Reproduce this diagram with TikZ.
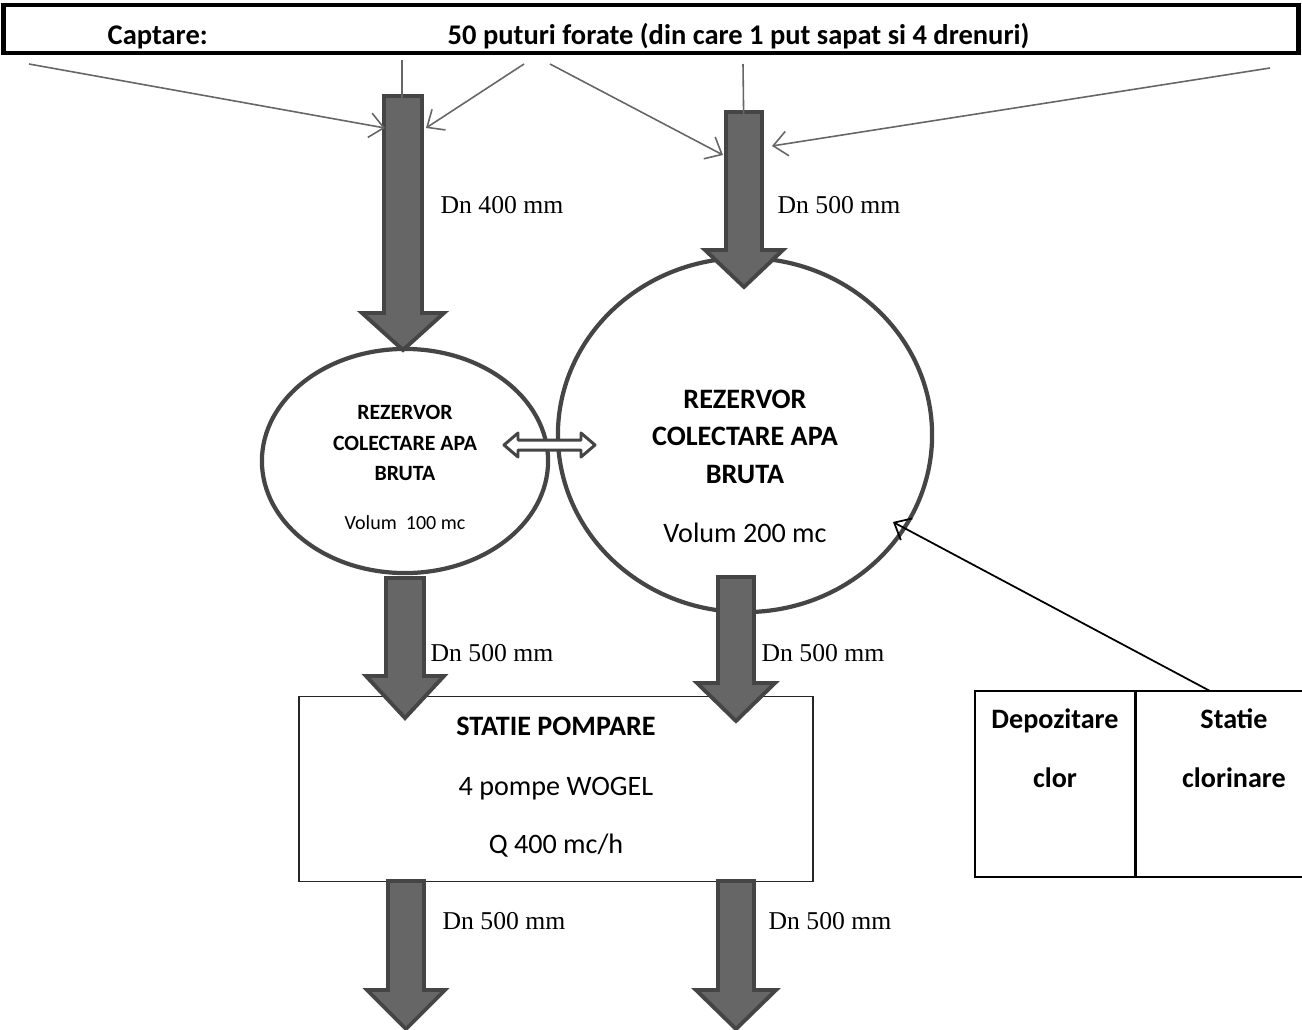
\documentclass[tikz,border=0pt]{standalone}
\usepackage{fontspec}
\setmainfont{Carlito}
\newfontfamily\timesfont{Liberation Serif}
\usetikzlibrary{arrows.meta,positioning,shapes.geometric}

\definecolor{pipegray}{HTML}{666666}
\definecolor{rimgray}{HTML}{454545}

\tikzset{
  pipe/.style={fill=pipegray, draw=rimgray, line width=1.1pt},
  feed/.style={draw=pipegray, line width=0.45pt, -{Straight Barb[length=4pt,width=7pt]}},
  dose/.style={draw=black, line width=0.5pt, -{Straight Barb[length=4pt,width=7pt]}},
  tank/.style={ellipse, draw=rimgray, line width=1.2pt, inner sep=0pt},
  cell/.style={draw=black, line width=0.4pt, minimum height=1.86cm, inner sep=0pt},
  txt/.style={font=\fontsize{8}{9.6}\selectfont, inner sep=0pt, anchor=base},
  hd/.style={font=\bfseries\fontsize{8}{9.6}\selectfont, inner sep=0pt, anchor=base},
  small/.style={font=\bfseries\fontsize{6.2}{7.4}\selectfont, inner sep=0pt, anchor=base},
  dn/.style={font=\timesfont\fontsize{7.3}{8.8}\selectfont, inner sep=0pt, anchor=base west},
}

% centre x, top y, head y, tip y, half shaft, half head
\newcommand\pipearrow[6]{%
  \draw[pipe] (#1-#5,#2) -- (#1+#5,#2) -- (#1+#5,#3) -- (#1+#6,#3) -- (#1,#4)
    -- (#1-#6,#3) -- (#1-#5,#3) -- cycle;}

\begin{document}
\begin{tikzpicture}[x=0.01cm, y=-0.01cm]
  \clip (0,0) rectangle (1302,1030);

  % captare
  \node[hd, anchor=base west, font=\bfseries\fontsize{8.1}{9.7}\selectfont] (capt) at (107,44) {Captare:};
  \node[hd, anchor=base west, font=\bfseries\fontsize{8.1}{9.7}\selectfont] (puturi) at (447,44) {50 puturi forate (din care 1 put sapat si 4 drenuri)};
  \node[draw, line width=1.4pt, minimum width=12.94cm, minimum height=0.48cm, inner sep=0pt] (captare) at (651,29) {};

  % rezervoare
  \node[tank, minimum width=2.86cm, minimum height=2.24cm] (tank1) at (405,461) {};
  \node[tank, minimum width=3.74cm, minimum height=3.54cm] (tank2) at (745,435) {};

  \node[small] (t1a) at (405,419) {REZERVOR};
  \node[small] (t1b) at (405,450) {COLECTARE APA};
  \node[small] (t1c) at (405,480) {BRUTA};
  \node[txt, font=\fontsize{5.7}{6.8}\selectfont] (t1d) at (405,529) {Volum\ \ 100 mc};

  \node[hd] (t2a) at (745,408) {REZERVOR};
  \node[hd] (t2b) at (745,445) {COLECTARE APA};
  \node[hd] (t2c) at (745,483) {BRUTA};
  \node[txt] (t2d) at (745,542) {Volum 200 mc};

  % legatura intre rezervoare
  \draw[fill=white, draw=rimgray, line width=0.85pt, line join=round]
    (504,445) -- (518,433) -- (518,440) -- (581,440) -- (581,433) -- (595,445)
    -- (581,457) -- (581,450) -- (518,450) -- (518,457) -- cycle;

  % statie pompare
  \node[draw=black!85, line width=0.4pt, minimum width=5.14cm, minimum height=1.85cm, inner sep=0pt] (pompe) at (556,789) {};
  \node[hd] (p1) at (556,735) {STATIE POMPARE};
  \node[txt] (p2) at (556,795) {4 pompe WOGEL};
  \node[txt] (p3) at (556,853) {Q 400 mc/h};

  % clorinare
  \node[cell, minimum width=1.6cm] (depoz) at (1055,784) {};
  \node[cell, minimum width=1.98cm, right=0pt of depoz] (clorst) {};
  \node[hd] (c1) at (1055,728) {Depozitare};
  \node[hd] (c2) at (1055,787) {clor};
  \node[hd] (c3) at (1234,728) {Statie};
  \node[hd] (c4) at (1234,787) {clorinare};

  % conducte
  \pipearrow{403}{96}{313}{350}{19}{41}
  \pipearrow{744}{112}{250}{287}{18}{39}
  \pipearrow{405}{578}{676}{718}{19}{39}
  \pipearrow{736}{577}{683}{721}{18}{39}
  \pipearrow{406}{881}{990}{1029}{18}{39}
  \pipearrow{736}{881}{990}{1029}{18}{40}

  \node[dn] (dn1) at (440,213) {Dn 400 mm};
  \node[dn] (dn2) at (777,213) {Dn 500 mm};
  \node[dn] (dn3) at (430,661) {Dn 500 mm};
  \node[dn] (dn4) at (761,661) {Dn 500 mm};
  \node[dn] (dn5) at (442,929) {Dn 500 mm};
  \node[dn] (dn6) at (768,929) {Dn 500 mm};

  % puturi
  \coordinate (w1) at (29,64);
  \coordinate (w2) at (402,60);
  \coordinate (w3) at (524,64);
  \coordinate (w4) at (550,64);
  \coordinate (w5) at (743,64);
  \coordinate (w6) at (1270,68);
  \coordinate (in1) at (385,128);
  \coordinate (in2) at (402,124);
  \coordinate (in3) at (426,128);
  \coordinate (in4) at (723,155);
  \coordinate (in5) at (744,143);
  \coordinate (in6) at (772,146);

  \draw[feed] (w1) -- (in1);
  \draw[feed] (w2) -- (in2);
  \draw[feed] (w3) -- (in3);
  \draw[feed] (w4) -- (in4);
  \draw[feed] (w5) -- (in5);
  \draw[feed] (w6) -- (in6);

  \coordinate (clorin) at (1210,691);
  \coordinate (dozare) at (893,522);
  \draw[dose] (clorin) -- (dozare);
\end{tikzpicture}
\end{document}
